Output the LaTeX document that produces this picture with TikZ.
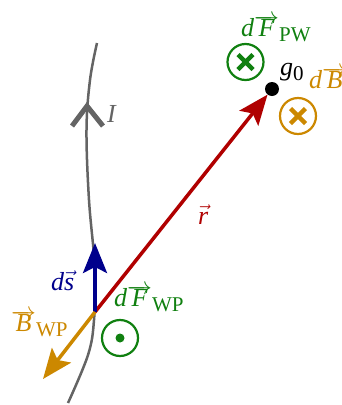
\documentclass[tikz,border=0pt]{standalone}
\usepackage{fontspec}
\setmainfont{Liberation Serif}
\usetikzlibrary{arrows.meta}
\definecolor{cgreen}{RGB}{16,128,16}
\definecolor{corange}{RGB}{204,136,0}
\definecolor{cred}{RGB}{176,0,0}
\definecolor{cnavy}{RGB}{0,0,140}
\definecolor{cgray}{RGB}{100,100,100}
\newcommand\longvec[1]{$\overrightarrow{\mbox{\raisebox{0pt}[0.5em][0pt]{\itshape #1}}}$}
\newcommand\shortvec[1]{$\vec{\mbox{\itshape #1}}$}
\newcommand\sub[1]{\raisebox{-5pt}{\fontsize{21}{22}\selectfont #1}}
\tikzset{
  lbl/.style={font=\fontsize{26}{28}\selectfont, inner sep=0pt, anchor=base west},
  vecarrow/.style={line width=3.5pt, -{Stealth[length=30pt,width=24pt,inset=6pt]}},
  circsym/.style={circle, draw, line width=2.2pt, minimum size=36pt, inner sep=0pt},
}
\begin{document}
\begin{tikzpicture}[x=1pt,y=-1pt]
\useasboundingbox (0,0) rectangle (342,405);
% wire
\draw[cgray, line width=2.5pt] plot[smooth, tension=0.6] coordinates {(97,43) (90,80) (86.5,130) (89,200) (95,270) (94,320) (88,355) (68,403)};
\coordinate (chev) at (87,106);
\coordinate (chevL) at (72,126);
\coordinate (chevR) at (103,126);
\draw[cgray, line width=5pt] (chevL) -- (chev) -- (chevR);
\node[lbl, cgray] (I) at (107,122) {\itshape I};
% points
\coordinate (P) at (95,312);
\node[circle, fill=black, minimum size=14pt, inner sep=0pt] (g) at (272,89) {};
\node[lbl] (g0) at (280,75) {\itshape g\upshape\sub{0}};
% vectors
\coordinate (ds) at (95,243);
\coordinate (B) at (43,379);
\draw[vecarrow, cred] (P) -- (g);
\draw[vecarrow, cnavy] (P) -- (ds);
\draw[vecarrow, corange] (P) -- (B);
\node[lbl, cred] (r) at (198,224) {\shortvec{r}};
\node[lbl, cnavy] (dsl) at (51,290) {\itshape d\shortvec{s}};
\node[lbl, corange] (Bl) at (11,331) {\longvec{B}\sub{WP}};
\node[lbl, cgreen] (dFWP) at (114,306) {\itshape d\longvec{F}\upshape\sub{WP}};
\node[lbl, cgreen] (dFPW) at (241,36) {\itshape d\longvec{F}\upshape\sub{PW}};
\node[lbl, corange] (dB) at (309,88) {\itshape d\longvec{B}};
% symbols
\node[circsym, cgreen] (odot) at (120,338) {};
\fill[cgreen] (odot.center) circle (4.5pt);
\node[circsym, cgreen] (ot1) at (245.5,62) {};
\draw[cgreen, line width=4.5pt] ([shift={(-7.5,-7.5)}]ot1.center) -- ([shift={(7.5,7.5)}]ot1.center)
  ([shift={(-7.5,7.5)}]ot1.center) -- ([shift={(7.5,-7.5)}]ot1.center);
\node[circsym, corange] (ot2) at (298,116) {};
\draw[corange, line width=4.5pt] ([shift={(-7.5,-7.5)}]ot2.center) -- ([shift={(7.5,7.5)}]ot2.center)
  ([shift={(-7.5,7.5)}]ot2.center) -- ([shift={(7.5,-7.5)}]ot2.center);
\end{tikzpicture}
\end{document}
